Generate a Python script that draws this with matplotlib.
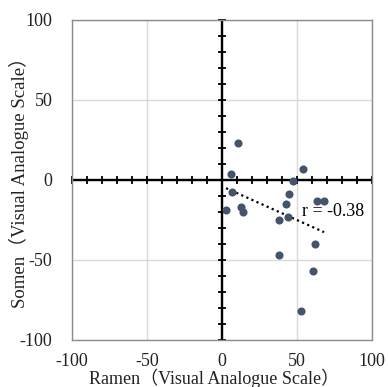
import numpy as np
import matplotlib
matplotlib.use("Agg")
import matplotlib.pyplot as plt

ramen = [10.9, 5.8, 53.8, 47.1, 6.9, 44.7, 63.6, 68.0, 42.7, 2.7, 12.7, 13.8,
         37.8, 43.8, 61.8, 37.8, 60.9, 52.7]
somen = [23.3, 3.5, 7.1, -0.8, -7.7, -8.75, -12.9, -12.9, -14.8, -18.75, -16.9, -19.8,
         -24.8, -22.9, -40.0, -46.7, -56.9, -81.7]
major_ticks = [-100, -50, 0, 50, 100]
tick_labels = ["-100", "-50", "0", "50", "100"]
x_label = "Ramen（Visual Analogue Scale）"
y_label = "Somen（Visual Analogue Scale）"

serif = ["Liberation Serif", "Noto Sans CJK JP", "DejaVu Sans"]
plt.rcParams["font.family"] = serif

W, H = 388, 387
fig = plt.figure(figsize=(W / 100, H / 100), dpi=100)
ax = fig.add_axes([72 / W, 1 - 340 / H, 300 / W, 320 / H])
ax.set_xlim(-100, 100)
ax.set_ylim(-100, 100)

for s in ax.spines.values():
    s.set_color("#8c8c8c")
    s.set_linewidth(1.0)

ax.set_xticks(major_ticks)
ax.set_xticklabels(tick_labels)
ax.set_yticks(major_ticks)
ax.set_yticklabels(tick_labels)
ax.tick_params(axis="both", length=0, labelsize=13, colors="#222222")
ax.tick_params(axis="x", pad=9)
ax.tick_params(axis="y", pad=14)
ax.grid(True, color="#d9d9d9", linewidth=1.0)
ax.set_axisbelow(True)

# zero axes with minor ticks
minor = np.arange(-100, 101, 10)
ax.axhline(0, color="black", linewidth=1.7, zorder=2)
ax.axvline(0, color="black", linewidth=1.7, zorder=2)
ax.plot(minor, np.zeros_like(minor), linestyle="none", marker="|", markersize=6,
        markeredgewidth=1.3, color="black", zorder=2, clip_on=False)
ax.plot(np.zeros_like(minor), minor, linestyle="none", marker="_", markersize=6,
        markeredgewidth=1.3, color="black", zorder=2, clip_on=False)

# trendline
x = np.array(ramen)
y = np.array(somen)
slope, intercept = np.polyfit(x, y, 1)
xs = np.array([x.min(), x.max()])
ax.plot(xs, slope * xs + intercept, color="black", linestyle=(0, (1, 1.5)),
        linewidth=1.6, zorder=3)

ax.scatter(x, y, s=34, color="#44546a", zorder=4, linewidths=0)

r = np.corrcoef(x, y)[0, 1]
ax.text(53, -20, f"r = {r:.2f}", fontsize=13, ha="left", va="center", zorder=5)

fig.text(214 / W, 1 - 383.5 / H, x_label, ha="center", va="baseline", fontsize=13,
         color="#222222")
fig.text(25.5 / W, 1 - 178 / H, y_label, ha="center", va="baseline", fontsize=13.5,
         rotation=90, rotation_mode="anchor", color="#222222")

fig.savefig("out.png", dpi=100)
